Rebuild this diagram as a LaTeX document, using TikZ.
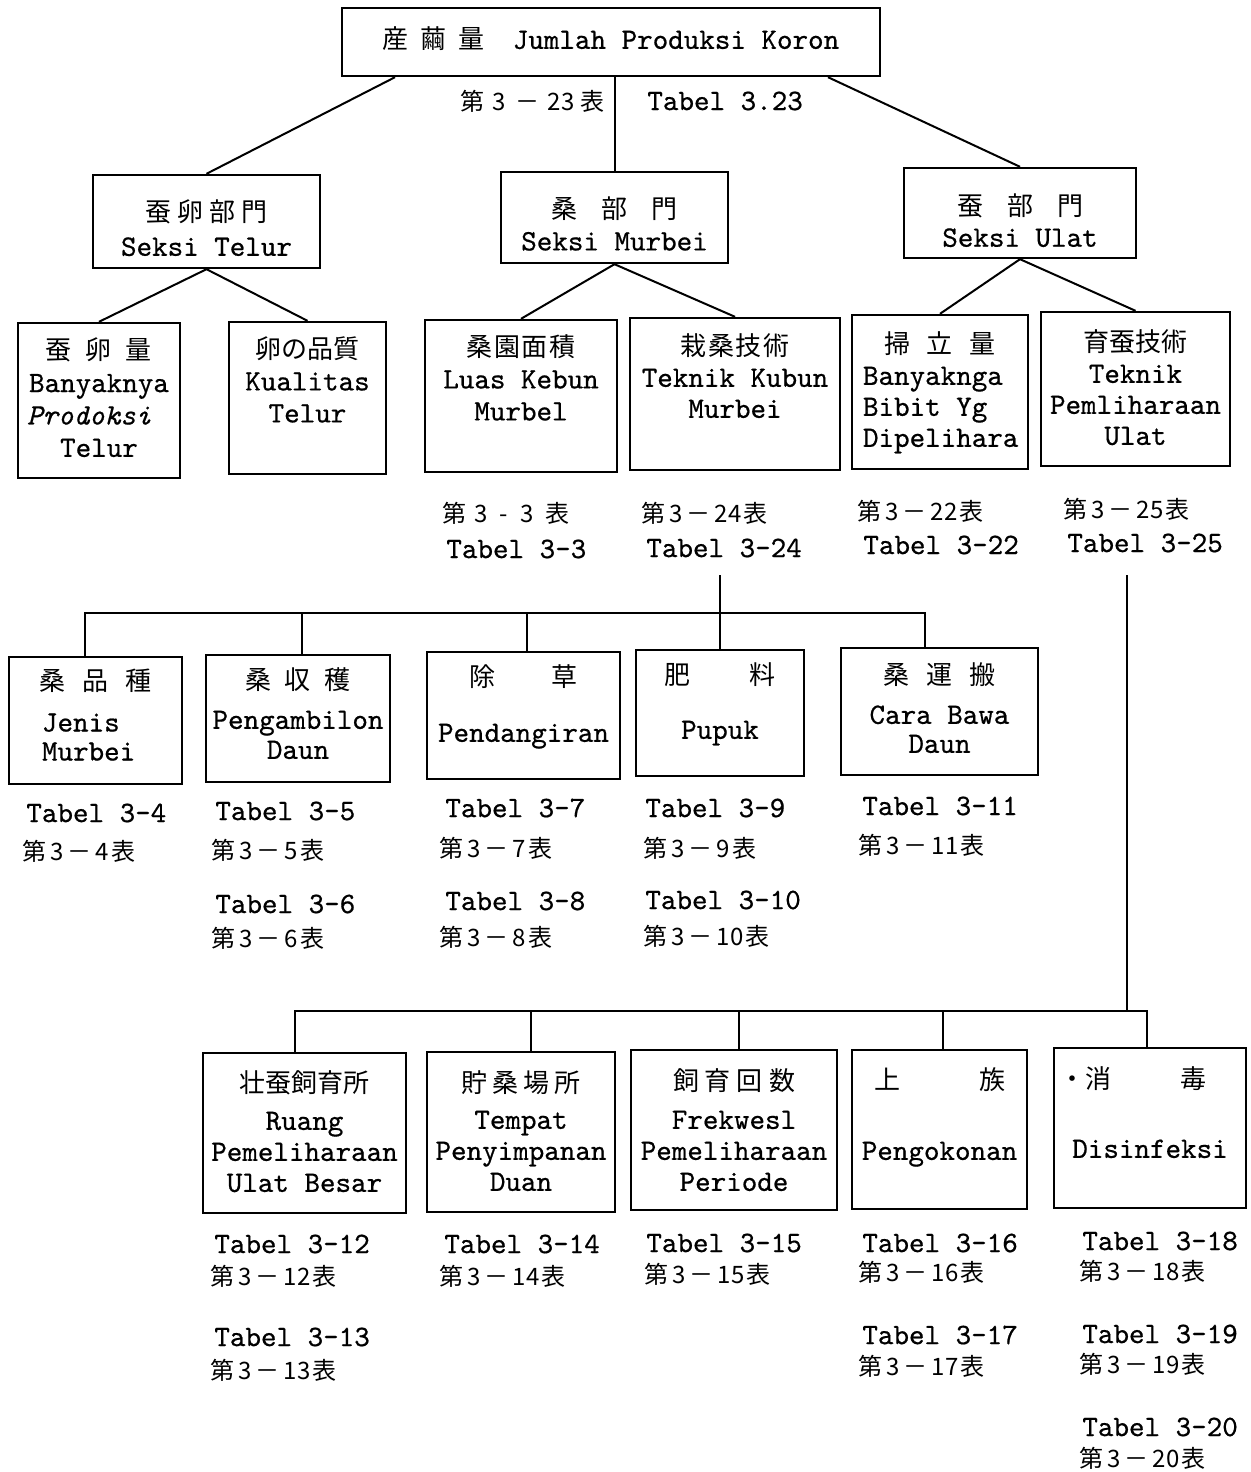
\documentclass[tikz,border=0pt]{standalone}
\usepackage{fontspec}
\newfontfamily\tw{lmmono10-regular.otf}[FakeBold=0.6, ItalicFont=lmmono10-italic.otf, ItalicFeatures={FakeBold=0.6}]
\newfontfamily\cjk{Noto Sans CJK JP}
\usetikzlibrary{calc}
\newcommand\cj[1]{{\cjk\fontsize{13}{15.5}\selectfont #1}}
\newcommand\bx[5]{\parbox[c][#2pt][t]{#1pt}{\tw\fontsize{14.8}{#4pt}\selectfont\centering\vspace*{#3pt}\strut #5}}
\newcommand\tb[2]{{\cjk\fontsize{12}{14}\selectfont 第\hspace{2pt}#1\hspace{2pt}－\hspace{2pt}#2\hspace{1pt}表}}
\begin{document}
\begin{tikzpicture}[x=0.5pt,y=-0.5pt,
  box/.style={draw, line width=1.2pt, inner sep=0pt},
  conn/.style={line width=1pt},
  lbl/.style={anchor=west, inner sep=0pt, font=\tw\fontsize{14.8}{15.5}\selectfont}]
\fill[white] (0,0) rectangle (1250,1472);
\useasboundingbox (0,0) rectangle (1250,1472);

% level 0
\node[box] (top) at (611,42) {\bx{269}{34}{9.5}{15.5}{\cj{産\hspace{6pt}繭\hspace{6pt}量}\hspace{14pt}Jumlah Produksi Koron}};
\node[lbl] (t23a) at (460,101) {{\cjk\fontsize{12}{14}\selectfont 第\hspace{4pt}3\hspace{5pt}－\hspace{4pt}23\hspace{3pt}表}};
\node[lbl] (t23b) at (647,101) {Tabel 3.23};

% level 1
\node[box] (telur) at (206.5,221.5) {\bx{113.5}{46.5}{11.5}{17}{\cj{蚕\hspace{3pt}卵\hspace{3pt}部\hspace{3pt}門}\\Seksi Telur}};
\node[box] (murbei) at (614.5,217.5) {\bx{113.5}{45.5}{12}{16}{\cj{桑\hspace{12pt}部\hspace{12pt}門}\\Seksi Murbei}};
\node[box] (ulat) at (1020,213) {\bx{116}{45}{13}{15.5}{\cj{蚕\hspace{12pt}部\hspace{12pt}門}\\Seksi Ulat}};

% level 2
\node[box] (ranryo) at (99,400.5) {\bx{81}{77.5}{7}{16.2}{\cj{蚕\hspace{7pt}卵\hspace{7pt}量}\\Banyaknya\\\makebox[72pt][l]{\textit{Prodoksi}}\\Telur}};
\node[box] (kualitas) at (307.5,398) {\bx{78.5}{76}{7}{16}{\cj{卵の品質}\\Kualitas\\Telur}};
\node[box] (luas) at (521,396) {\bx{96}{76}{7}{16}{\cj{桑\hspace{0.8pt}園\hspace{0.8pt}面\hspace{0.8pt}積}\\Luas Kebun\\Murbel}};
\node[box] (teknikkb) at (735,394) {\bx{105}{76}{8}{15.5}{\cj{栽\hspace{0.8pt}桑\hspace{0.8pt}技\hspace{0.8pt}術}\\Teknik Kubun\\Murbei}};
\node[box] (bibit) at (940,392) {\bx{88}{77}{8.5}{15.5}{\cj{掃\hspace{8.5pt}立\hspace{8.5pt}量}\\\makebox[77pt][l]{Banyaknga}\\\makebox[77pt][l]{Bibit Yg}\\\makebox[77pt][l]{Dipelihara}}};
\node[box] (pemlih) at (1135.5,389) {\bx{94.5}{77}{9}{15.5}{\cj{育蚕技術}\\Teknik\\Pemliharaan\\Ulat}};

\node[lbl] (t3a) at (442,513) {{\cjk\fontsize{12}{14}\selectfont 第\hspace{4pt}3\hspace{6pt}-\hspace{6pt}3\hspace{6pt}表}};
\node[lbl] (t3b) at (446,549) {Tabel 3-3};
\node[lbl] (t24a) at (641,513) {\tb{3}{24}};
\node[lbl] (t24b) at (646,548) {Tabel 3-24};
\node[lbl] (t22a) at (857,511) {\tb{3}{22}};
\node[lbl] (t22b) at (863,545) {Tabel 3-22};
\node[lbl] (t25a) at (1063,509) {\tb{3}{25}};
\node[lbl] (t25b) at (1067,543) {Tabel 3-25};

% level 3
\node[box] (jenis) at (95.5,720.5) {\bx{86.5}{63.5}{6}{14.5}{\cj{桑\hspace{8.5pt}品\hspace{8.5pt}種}\\[6pt]\makebox[53.5pt][l]{Jenis}\\\makebox[53.5pt][l]{Murbei}}};
\node[box] (pengamb) at (298,718.5) {\bx{92}{63.5}{6.5}{15}{\cj{桑\hspace{7pt}収\hspace{7pt}穫}\\[4.5pt]Pengambilon\\Daun}};
\node[box] (pendang) at (523.5,715.5) {\bx{96.5}{63.5}{6.5}{15.5}{\cj{除\hspace{28.5pt}草}\\[12pt]Pendangiran}};
\node[box] (pupuk) at (720,713) {\bx{84}{63}{6.5}{15.5}{\cj{肥\hspace{29.5pt}料}\\[11.5pt]Pupuk}};
\node[box] (cara) at (939.5,711.5) {\bx{98.5}{63.5}{7.5}{14.5}{\cj{桑\hspace{8.5pt}運\hspace{8.5pt}搬}\\[5pt]Cara Bawa\\Daun}};

\node[lbl] (t4b) at (26,813) {Tabel 3-4};
\node[lbl] (t4a) at (22,851) {\tb{3}{4}};
\node[lbl] (t5b) at (215,811) {Tabel 3-5};
\node[lbl] (t5a) at (211,850) {\tb{3}{5}};
\node[lbl] (t6b) at (215,904) {Tabel 3-6};
\node[lbl] (t6a) at (211,938) {\tb{3}{6}};
\node[lbl] (t7b) at (445,808) {Tabel 3-7};
\node[lbl] (t7a) at (439,848) {\tb{3}{7}};
\node[lbl] (t8b) at (445,901) {Tabel 3-8};
\node[lbl] (t8a) at (439,937) {\tb{3}{8}};
\node[lbl] (t9b) at (645,808) {Tabel 3-9};
\node[lbl] (t9a) at (643,848) {\tb{3}{9}};
\node[lbl] (t10b) at (645,900) {Tabel 3-10};
\node[lbl] (t10a) at (643,936) {\tb{3}{10}};
\node[lbl] (t11b) at (862,806) {Tabel 3-11};
\node[lbl] (t11a) at (858,845) {\tb{3}{11}};

% level 4
\node[box] (ruang) at (304.5,1133) {\bx{101.5}{80}{9}{15.5}{\cj{壮蚕飼育所}\\[3pt]Ruang\\Pemeliharaan\\Ulat Besar}};
\node[box] (tempat) at (521,1132) {\bx{94}{80}{9.5}{15.5}{\cj{貯\hspace{2.5pt}桑\hspace{2.5pt}場\hspace{2.5pt}所}\\[2.5pt]Tempat\\Penyimpanan\\Duan}};
\node[box] (frek) at (734,1130) {\bx{103}{80}{9.5}{15.5}{\cj{飼\hspace{3pt}育\hspace{3pt}回\hspace{3pt}数}\\[3.5pt]Frekwesl\\Pemeliharaan\\Periode}};
\node[box] (pengok) at (939.5,1129.5) {\bx{87.5}{79.5}{9}{15.5}{\cj{上\hspace{39.5pt}族}\\[19.5pt]Pengokonan}};
\node[box] (disinf) at (1150,1128) {\bx{96}{80}{9.5}{15.5}{\hspace{-17pt}\cj{・消\hspace{34.5pt}毒}\\[19pt]Disinfeksi}};

\node[lbl] (t12b) at (214,1244) {Tabel 3-12};
\node[lbl] (t12a) at (210,1276) {\tb{3}{12}};
\node[lbl] (t13b) at (214,1337) {Tabel 3-13};
\node[lbl] (t13a) at (210,1370) {\tb{3}{13}};
\node[lbl] (t14b) at (444,1244) {Tabel 3-14};
\node[lbl] (t14a) at (439,1276) {\tb{3}{14}};
\node[lbl] (t15b) at (646,1243) {Tabel 3-15};
\node[lbl] (t15a) at (644,1274) {\tb{3}{15}};
\node[lbl] (t16b) at (862,1243) {Tabel 3-16};
\node[lbl] (t16a) at (858,1272) {\tb{3}{16}};
\node[lbl] (t17b) at (862,1335) {Tabel 3-17};
\node[lbl] (t17a) at (858,1366) {\tb{3}{17}};
\node[lbl] (t18b) at (1082,1241) {Tabel 3-18};
\node[lbl] (t18a) at (1079,1271) {\tb{3}{18}};
\node[lbl] (t19b) at (1082,1334) {Tabel 3-19};
\node[lbl] (t19a) at (1079,1364) {\tb{3}{19}};
\node[lbl] (t20b) at (1082,1427) {Tabel 3-20};
\node[lbl] (t20a) at (1079,1458) {\tb{3}{20}};

% connectors level 0-2
\draw[conn] ($(top.south)+(-216,0)$) -- (telur.north);
\draw[conn] (murbei.north) -- (murbei.north |- top.south);
\draw[conn] ($(top.south)+(217,0)$) -- (ulat.north);
\draw[conn] (ranryo.north) -- (telur.south) -- (kualitas.north);
\draw[conn] (luas.north) -- (murbei.south) -- (teknikkb.north);
\draw[conn] (bibit.north) -- (ulat.south) -- (pemlih.north);

% bus 1
\coordinate (c1) at (720,575);
\coordinate (bus1) at (0,613);
\draw[conn] (c1) -- (pupuk.north);
\draw[conn] ([xshift=-5.25pt]jenis.north) -- ([xshift=-5.25pt]jenis.north |- bus1) -- ([xshift=-7.25pt]cara.north |- bus1) -- ([xshift=-7.25pt]cara.north);
\draw[conn] ([xshift=2pt]pengamb.north) -- ([xshift=2pt]pengamb.north |- bus1);
\draw[conn] ([xshift=1.75pt]pendang.north) -- ([xshift=1.75pt]pendang.north |- bus1);

% bus 2
\coordinate (c2) at (1127,575);
\coordinate (bus2) at (0,1011);
\draw[conn] (c2) -- (c2 |- bus2);
\draw[conn] ([xshift=-4.75pt]ruang.north) -- ([xshift=-4.75pt]ruang.north |- bus2) -- ([xshift=-1.5pt]disinf.north |- bus2) -- ([xshift=-1.5pt]disinf.north);
\draw[conn] ([xshift=5pt]tempat.north) -- ([xshift=5pt]tempat.north |- bus2);
\draw[conn] ([xshift=2.5pt]frek.north) -- ([xshift=2.5pt]frek.north |- bus2);
\draw[conn] ([xshift=1.75pt]pengok.north) -- ([xshift=1.75pt]pengok.north |- bus2);
\end{tikzpicture}
\end{document}
